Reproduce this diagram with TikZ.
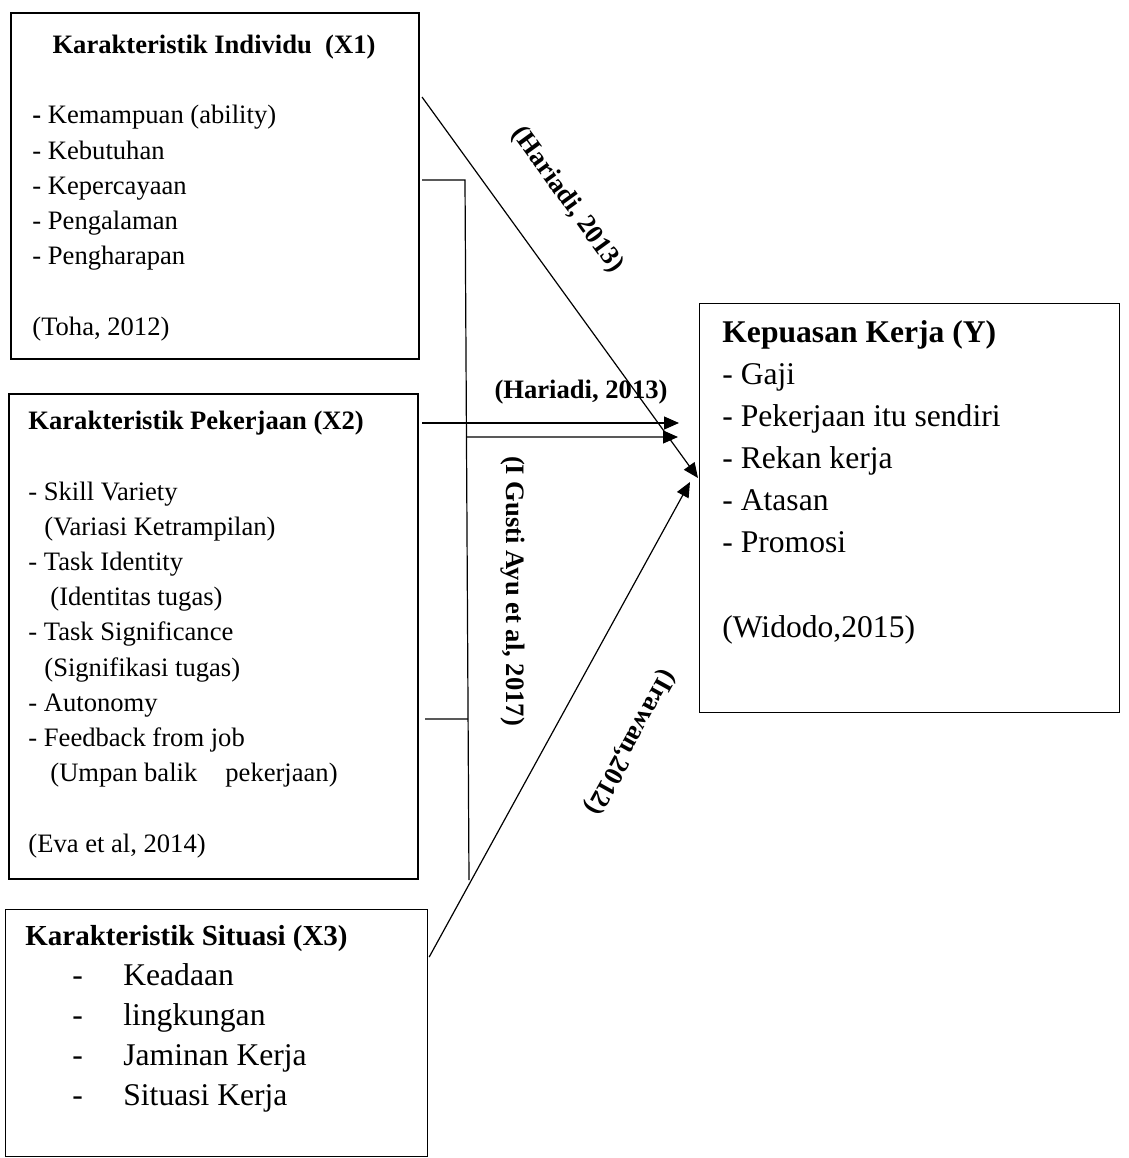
\documentclass[tikz,border=0pt]{standalone}
\usepackage{fontspec}
\setmainfont{Liberation Serif}
\usetikzlibrary{arrows.meta,calc}

\tikzset{
    thickbox/.style={draw, line width=1pt, inner sep=0pt, anchor=north west},
    thinbox/.style={draw, line width=0.6pt, inner sep=0pt, anchor=north west},
    head/.style={anchor=base west, inner sep=0pt, font=\fontsize{13.3}{16}\selectfont\bfseries},
    itemtext/.style={anchor=base west, inner sep=0pt, align=left, font=\fontsize{13.3}{17.6}\selectfont},
    bigtext/.style={anchor=base west, inner sep=0pt, align=left, font=\fontsize{15.8}{21.05}\selectfont},
    cite/.style={inner sep=0pt, font=\fontsize{13.3}{16}\selectfont\bfseries},
    link/.style={line width=0.6pt},
    arrowlink/.style={line width=0.6pt, -{Triangle[length=7.5pt,width=6.5pt]}},
}

\begin{document}
\begin{tikzpicture}[x=0.5pt, y=-0.5pt]
    \useasboundingbox (0,0) rectangle (1129,1158);

    \node[thickbox, minimum width=204pt, minimum height=173pt] (x1) at (10,12) {};
    \node[thickbox, minimum width=204.5pt, minimum height=242.5pt] (x2) at (8,393) {};
    \node[thinbox, minimum width=211pt, minimum height=123.5pt] (x3) at (5,909) {};
    \node[thinbox, minimum width=210pt, minimum height=204.5pt] (y) at (699,303) {};

    % multi-line texts sit on the baseline of their last line
    \node[head, anchor=base] (t1) at (214,53) {Karakteristik Individu\ \ (X1)};
    \node[itemtext] (l1) at (32,335) {\textbf{-} Kemampuan (ability)\\- Kebutuhan\\- Kepercayaan\\- Pengalaman\\- Pengharapan\\[17.6pt](Toha, 2012)};
    \node[itemtext] (l2) at (28,852) {\textbf{Karakteristik Pekerjaan (X2)}\\[17.6pt]- Skill Variety\\\hspace*{8pt}(Variasi Ketrampilan)\\- Task Identity\\\hspace*{11pt}(Identitas tugas)\\- Task Significance\\\hspace*{8pt}(Signifikasi tugas)\\- Autonomy\\- Feedback from job\\\hspace*{11pt}(Umpan balik\hspace{14pt}pekerjaan)\\[17.6pt](Eva et al, 2014)};
    \node[head, font=\fontsize{14.5}{17}\selectfont\bfseries] (t3) at (25,945) {Karakteristik Situasi (X3)};
    \node[bigtext, font=\fontsize{15.8}{20}\selectfont] (l3) at (72,1105) {\makebox[25.5pt][l]{-}Keadaan\\\makebox[25.5pt][l]{-}lingkungan\\\makebox[25.5pt][l]{-}Jaminan Kerja\\\makebox[25.5pt][l]{-}Situasi Kerja};
    \node[bigtext] (l4) at (722,637) {\textbf{Kepuasan Kerja (Y)}\\- Gaji\\- Pekerjaan itu sendiri\\- Rekan kerja\\- Atasan\\- Promosi\\[21.05pt](Widodo,2015)};

    \coordinate (bt) at (465,180);
    \coordinate (bb) at (469,880);
    \draw[link] ($(x1.north east)+(2,168)$) -- (bt) -- (bb);
    \draw[link] ($(x2.north east)+(6,326)$) -- ($(bt)!0.77!(bb)$);
    \draw[arrowlink] ($(x1.north east)+(2,85)$) -- ($(y.north west)+(-1,175)$);
    \draw[arrowlink] ($(x2.north east)+(3,30)$) -- ($(y.north west)+(-20,120)$);
    \draw[arrowlink] ($(bt)!0.367!(bb)$) -- ($(y.north west)+(-21,134)$);
    \draw[arrowlink] ($(x3.north east)+(1,48)$) -- ($(y.north west)+(-9,179)$);

    \node[cite, rotate=-54] (c1) at (567,200) {(Hariadi, 2013)};
    \node[cite] (c2) at (581,392) {(Hariadi, 2013)};
    \node[cite, rotate=-90] (c3) at (513,591) {(I Gusti Ayu et al, 2017)};
    \node[cite, rotate=-119] (c4) at (630,742) {(Irawan,2012)};
\end{tikzpicture}
\end{document}
